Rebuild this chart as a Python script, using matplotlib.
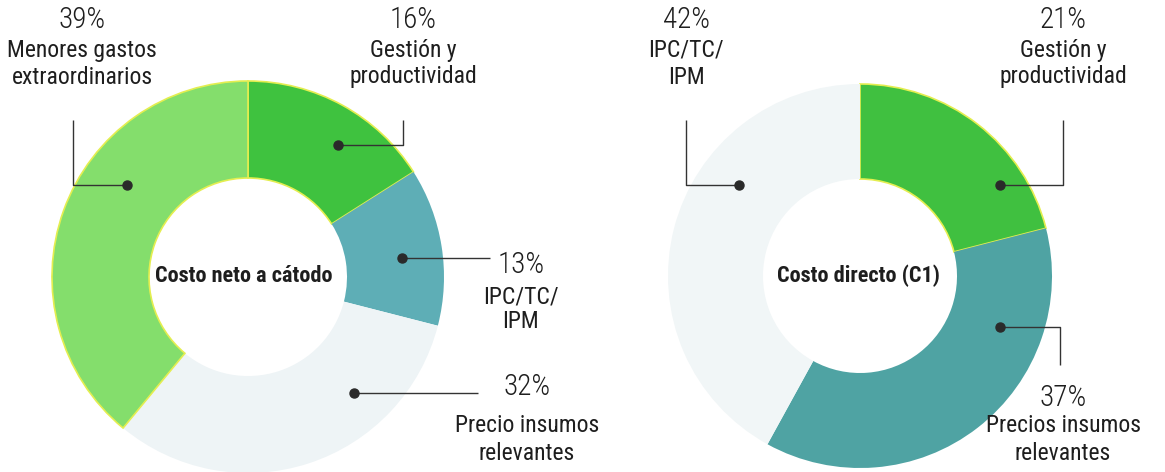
import matplotlib
matplotlib.use("Agg")
import matplotlib.pyplot as plt
from matplotlib import font_manager as fm

# ---- data ----
left_title = "Costo neto a cátodo"
left_labels = ["Gestión y\nproductividad", "IPC/TC/\nIPM", "Precio insumos\nrelevantes", "Menores gastos\nextraordinarios"]
left_values = [16, 13, 32, 39]
left_colors = ["#3fc23f", "#5eaeb6", "#eef4f6", "#84de6c"]

right_title = "Costo directo (C1)"
right_labels = ["Gestión y\nproductividad", "Precios insumos\nrelevantes", "IPC/TC/\nIPM"]
right_values = [21, 37, 42]
right_colors = ["#40c040", "#4fa3a3", "#f1f6f7"]

W, H = 1165, 472

available = {f.name for f in fm.fontManager.ttflist}
base = "DejaVu Sans"
for cand in ["Roboto Condensed", "Liberation Sans Narrow", "Open Sans Condensed",
             "Roboto", "Lato", "Open Sans", "Noto Sans"]:
    if cand in available:
        base = cand
        break
FONT = [base, "DejaVu Sans"]
TXT = "#1e1e1e"

fig = plt.figure(figsize=(W / 100, H / 100), dpi=100)
ax = fig.add_axes([0, 0, 1, 1])


def Y(py):
    return H - py


def donut(values, colors, cx, cy, r, w):
    wedges, _ = ax.pie(values, colors=colors, startangle=90, counterclock=False,
                       radius=r, center=(cx, Y(cy)),
                       wedgeprops=dict(width=w, linewidth=0))
    for wd, c in zip(wedges, colors):
        if c in ("#3fc23f", "#40c040", "#84de6c"):
            wd.set_edgecolor("#e4ee50")
            wd.set_linewidth(1.2)
    return wedges


donut(left_values, left_colors, 248, 277, 196, 97)
donut(right_values, right_colors, 860, 276, 192, 95)

ax.text(244, Y(276), left_title, ha="center", va="center", fontsize=16,
        fontweight="bold", color=TXT, family=FONT)
ax.text(858, Y(276), right_title, ha="center", va="center", fontsize=16,
        fontweight="bold", color=TXT, family=FONT)


def label(x, ypct, value, text, gap=30, step=27):
    ax.text(x, Y(ypct), f"{value}%", ha="center", va="center", fontsize=21,
            color=TXT, family=FONT, fontweight="light")
    for i, line in enumerate(text.split("\n")):
        ax.text(x, Y(ypct + gap + i * step), line, ha="center", va="center",
                fontsize=17, color=TXT, family=FONT)


def leader(pts):
    xs = [p[0] for p in pts]
    ys = [Y(p[1]) for p in pts]
    ax.plot(xs, ys, color="#333333", lw=1.0, solid_capstyle="butt")
    ax.plot(xs[-1], ys[-1], "o", color="#2a2a2a", ms=6.5)


# left donut labels
label(413, 20, left_values[0], left_labels[0])
leader([(403, 120), (403, 145), (338, 145)])
label(521, 265, left_values[1], left_labels[1], gap=32, step=25)
leader([(490, 258), (402, 258)])
label(527, 387, left_values[2], left_labels[2], gap=38, step=28)
leader([(478, 393), (354, 393)])
label(82, 20, left_values[3], left_labels[3])
leader([(73, 120), (73, 185), (127, 185)])

# right donut labels
label(1063, 20, right_values[0], right_labels[0])
leader([(1063, 120), (1063, 185), (1000, 185)])
label(1063, 398, right_values[1], right_labels[1], gap=28, step=28)
leader([(1060, 365), (1060, 327), (1000, 327)])
label(686, 20, right_values[2], right_labels[2])
leader([(686, 120), (686, 185), (739, 185)])

ax.set_xlim(0, W)
ax.set_ylim(0, H)
ax.set_aspect("auto")
ax.axis("off")

fig.savefig("out.png", dpi=100, facecolor="white")
